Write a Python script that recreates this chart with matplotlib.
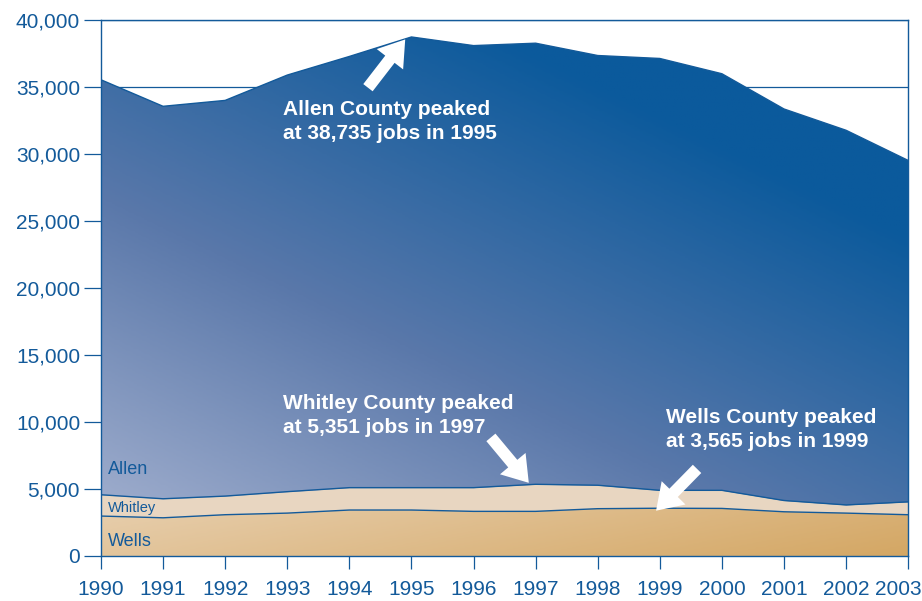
import numpy as np
import matplotlib
matplotlib.use("Agg")
import matplotlib.pyplot as plt
import matplotlib.transforms as mtrans
from matplotlib.colors import LinearSegmentedColormap
from matplotlib.patches import Polygon

years = [1990, 1991, 1992, 1993, 1994, 1995, 1996, 1997, 1998, 1999, 2000, 2001, 2002, 2003]
allen = [35540, 33560, 34000, 35890, 37280, 38735, 38090, 38270, 37350, 37130, 35990, 33360, 31770, 29520]
whitley = [4570, 4270, 4470, 4800, 5100, 5100, 5100, 5351, 5280, 4900, 4900, 4140, 3810, 4040]
wells = [2980, 2850, 3080, 3200, 3430, 3430, 3330, 3330, 3530, 3565, 3550, 3300, 3200, 3080]

yticks = [0, 5000, 10000, 15000, 20000, 25000, 30000, 35000, 40000]

BLUE = "#135a9a"
plt.rcParams['font.family'] = ['Liberation Sans', 'DejaVu Sans']

fig = plt.figure(figsize=(9.22, 6.01), dpi=100)
ax = fig.add_axes([0.1095, 0.0749, 0.8755, 0.8918])
ax.set_xlim(1990, 2003)
ax.set_ylim(0, 40000)

u, v = np.meshgrid(np.linspace(0, 1, 300), np.linspace(0, 1, 300))


def gradient_area(vals, cmap, t, z):
    x = np.array(years, dtype=float)
    verts = np.vstack([np.column_stack([x, vals]), [[x[-1], 0], [x[0], 0]]])
    patch = Polygon(verts, closed=True, facecolor='none', edgecolor='none')
    ax.add_patch(patch)
    im = ax.imshow(t, cmap=cmap, extent=[1990, 2003, 0, 40000], origin='lower',
                   aspect='auto', vmin=0, vmax=1, zorder=z)
    im.set_clip_path(patch)
    ax.plot(x, vals, color=BLUE, lw=1.0, zorder=z + 1)


allen_cmap = LinearSegmentedColormap.from_list("allen", ["#a9b5d2", "#5a78aa", "#0b5a9c"])
wells_cmap = LinearSegmentedColormap.from_list("wells", ["#e9d2b4", "#d4a764"])

for g in [35000, 40000]:
    ax.axhline(g, color=BLUE, lw=0.9, zorder=1)

gradient_area(allen, allen_cmap, 0.55 * u + 0.75 * v, 2)
ax.fill_between(years, 0, whitley, color="#e8d6c1", lw=0, zorder=4)
ax.plot(years, whitley, color=BLUE, lw=1.0, zorder=5)
gradient_area(wells, wells_cmap, 0.7 * u + 0.3 * (1 - v * 8), 6)

for s in ax.spines.values():
    s.set_color(BLUE)
    s.set_linewidth(1.0)
    s.set_zorder(8)

ax.set_xticks(years)
ax.set_xticklabels([str(y) for y in years])
ax.set_yticks(yticks)
ax.set_yticklabels(["{:,}".format(t) for t in yticks])
ax.tick_params(axis='x', colors=BLUE, labelsize=15, length=9, width=0.9, direction='out', pad=8)
ax.tick_params(axis='y', colors=BLUE, labelsize=15, length=12, width=0.9, direction='out', pad=3)
last = ax.get_xticklabels()[-1]
last.set_transform(last.get_transform() + mtrans.ScaledTranslation(-0.1, 0, fig.dpi_scale_trans))

# series labels
ax.text(1990.12, 6430, "Allen", color=BLUE, fontsize=13, va='center', zorder=9)
ax.text(1990.12, 3560, "Whitley", color=BLUE, fontsize=10.5, va='center', zorder=9)
ax.text(1990.12, 1100, "Wells", color=BLUE, fontsize=13, va='center', zorder=9)

# annotations
arrow = dict(arrowstyle="simple,head_width=2.4,head_length=1.8,tail_width=0.85",
             fc="white", ec="none", shrinkA=0, shrinkB=0, mutation_scale=10)
ax.annotate("", xy=(1994.9, 38550), xytext=(1994.3, 34950), arrowprops=arrow, zorder=9)
ax.annotate("", xy=(1996.89, 5460), xytext=(1996.28, 8850), arrowprops=arrow, zorder=9)
ax.annotate("", xy=(1998.94, 3380), xytext=(1999.6, 6500), arrowprops=arrow, zorder=9)

tk = dict(color="white", fontsize=15, fontweight='bold', va='top', ha='left',
          linespacing=1.32, zorder=10)
ax.text(1992.93, 34000, "Allen County peaked\nat 38,735 jobs in 1995", **tk)
ax.text(1992.93, 12100, "Whitley County peaked\nat 5,351 jobs in 1997", **tk)
ax.text(1999.1, 11050, "Wells County peaked\nat 3,565 jobs in 1999", **tk)

fig.savefig("out.png", dpi=100)
